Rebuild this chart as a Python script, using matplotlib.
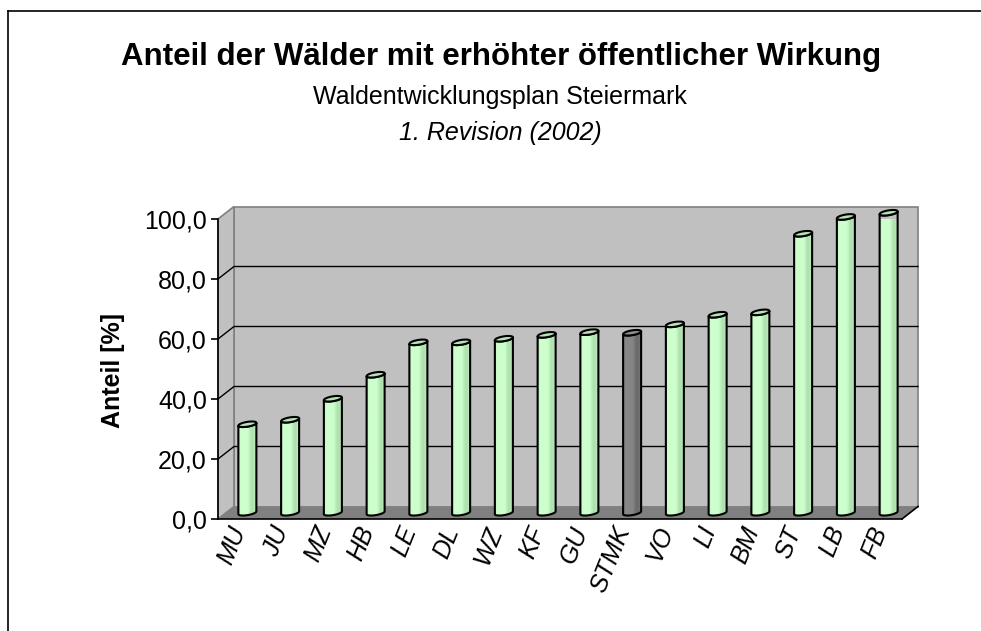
import matplotlib
matplotlib.use("Agg")
import matplotlib.pyplot as plt
import numpy as np
from matplotlib.colors import LinearSegmentedColormap
from matplotlib.lines import Line2D
from matplotlib.patches import Polygon

plt.rcParams["font.family"] = ["Liberation Sans", "DejaVu Sans"]

# data (share in %)
regions = ["MU", "JU", "MZ", "HB", "LE", "DL", "WZ", "KF", "GU",
           "STMK", "VO", "LI", "BM", "ST", "LB", "FB"]
shares = [29.5, 31.0, 38.0, 46.0, 56.8, 56.8, 58.0, 59.3, 60.2,
          60.0, 62.8, 66.0, 66.8, 93.0, 98.6, 100.0]
highlight = "STMK"
y_ticks = [0, 20, 40, 60, 80, 100]

title = "Anteil der Wälder mit erhöhter öffentlicher Wirkung"
subtitle = "Waldentwicklungsplan Steiermark"
subtitle2 = "1. Revision (2002)"
ylabel = "Anteil [%]"

W, H = 981, 631
fig = plt.figure(figsize=(W / 100, H / 100), dpi=100)

# axes = front face of the 3D box, in pixels
AX_L, AX_B, AX_W, AX_H = 218, 112, 684, 300
ax = fig.add_axes([AX_L / W, AX_B / H, AX_W / W, AX_H / H])
ax.set_facecolor("none")
n = len(regions)
ux = AX_W / n          # px per category
uy = AX_H / 100.0      # px per percent


def px(dx, dy):
    return dx / ux, dy / uy


ddx, ddy = px(16, 12.5)      # full depth of the box
x0, x1 = -0.5, n - 0.5

# walls and floor
ax.add_patch(Polygon([(x0 + ddx, ddy), (x0 + ddx, 100 + ddy),
                      (x1 + ddx, 100 + ddy), (x1 + ddx, ddy)],
                     fc="#c0c0c0", ec="#808080", lw=1.2, zorder=0, clip_on=False))
ax.add_patch(Polygon([(x0, 0), (x0, 100), (x0 + ddx, 100 + ddy), (x0 + ddx, ddy)],
                     fc="#c0c0c0", ec="#808080", lw=1.2, zorder=0, clip_on=False))
ax.add_patch(Polygon([(x0, 0), (x1, 0), (x1 + ddx, ddy), (x0 + ddx, ddy)],
                     fc="#808080", ec="none", zorder=1, clip_on=False))
ax.plot([x1, x1 + ddx], [0, ddy], color="black", lw=1.2, zorder=1, clip_on=False)

for v in y_ticks[1:-1]:
    ax.plot([x0, x0 + ddx, x1 + ddx], [v, v + ddy, v + ddy],
            color="black", lw=1.0, zorder=1, clip_on=False)

green = LinearSegmentedColormap.from_list("g", [
    (0.0, "#b8e8b8"), (0.08, "#ccffcc"), (0.55, "#ccffcc"),
    (0.75, "#b0e0b0"), (0.9, "#b4e4b4"), (1.0, "#c0f0c0")])
grey = LinearSegmentedColormap.from_list("k", [
    (0.0, "#777777"), (0.08, "#888888"), (0.55, "#858585"),
    (0.75, "#6a6a6a"), (0.9, "#6e6e6e"), (1.0, "#7a7a7a")])
grad = np.linspace(0, 1, 64)[np.newaxis, :]

r = px(9, 0)[0]
b = px(0, 2.4)[1]
c = px(0, 1.4)[1]
t_front = np.linspace(np.pi, 2 * np.pi, 30)
t_full = np.linspace(0, 2 * np.pi, 60)

for i, (name, v) in enumerate(zip(regions, shares)):
    cx = i + ddx / 2
    base = ddy / 2
    top = v + ddy / 2
    is_hl = name == highlight

    top_x = cx + r * np.cos(t_front)
    top_y = top + b * np.sin(t_front) + c * np.cos(t_front)
    bot_x = cx + r * np.cos(t_front[::-1])
    bot_y = base + b * np.sin(t_front[::-1]) + c * np.cos(t_front[::-1])
    body = np.vstack([np.column_stack([top_x, top_y]),
                      np.column_stack([bot_x, bot_y])])
    body_patch = Polygon(body, closed=True, fc="none", ec="black", lw=1.5,
                         zorder=4, clip_on=False)
    ax.add_patch(body_patch)

    im = ax.imshow(grad, cmap=grey if is_hl else green, aspect="auto",
                   extent=[cx - r, cx + r, base - 2 * b, top + 2 * b],
                   zorder=3, interpolation="bilinear")
    im.set_clip_box(None)
    im.set_clip_path(body_patch)

    cap_x = cx + r * np.cos(t_full)
    cap_y = top + b * np.sin(t_full) + c * np.cos(t_full)
    ax.add_patch(Polygon(np.column_stack([cap_x, cap_y]),
                         fc="#8c8c8c" if is_hl else "#b4e4b4",
                         ec="black", lw=1.5, zorder=5, clip_on=False))

ax.set_xlim(x0, x1)
ax.set_ylim(0, 100)

ax.set_yticks(y_ticks)
ax.set_yticklabels([f"{v:.1f}".replace(".", ",") for v in y_ticks])
ax.tick_params(axis="y", direction="out", length=5, width=1.2, labelsize=18, pad=3)
ax.set_xticks(range(n))
ax.set_xticklabels(regions, rotation=68, ha="right", va="center",
                   rotation_mode="anchor", fontstyle="italic", fontsize=18)
ax.tick_params(axis="x", length=0, pad=6)

for side in ("top", "right"):
    ax.spines[side].set_visible(False)
for side in ("left", "bottom"):
    ax.spines[side].set_color("black")
    ax.spines[side].set_linewidth(1.2)
    ax.spines[side].set_zorder(2)

fig.text(0.511, 1 - 57 / H, title, ha="center", va="center",
         fontsize=22.5, fontweight="bold")
fig.text(0.51, 1 - 97 / H, subtitle, ha="center", va="center", fontsize=18)
fig.text(0.51, 1 - 133 / H, subtitle2, ha="center", va="center",
         fontsize=18, fontstyle="italic")
fig.text(113 / W, 1 - 370 / H, ylabel, rotation=90, ha="center", va="center",
         fontsize=18, fontweight="bold")

# outer chart frame (only top and left visible in the crop)
fig.add_artist(Line2D([8 / W, 8 / W], [0, 1 - 11 / H], color="black", lw=1.2))
fig.add_artist(Line2D([8 / W, 1], [1 - 11 / H, 1 - 11 / H], color="black", lw=1.2))

fig.savefig("out.png", dpi=100)
